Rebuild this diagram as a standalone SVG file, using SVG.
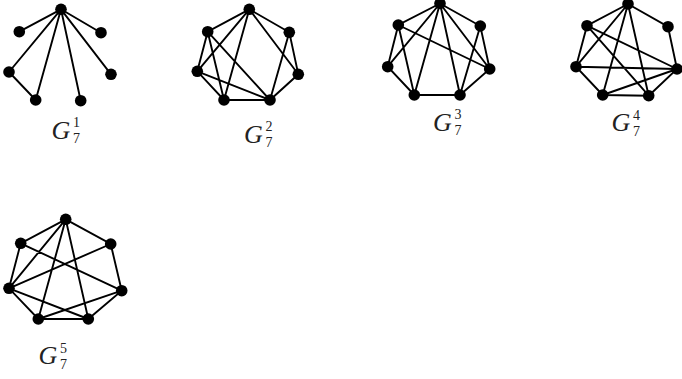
<svg xmlns="http://www.w3.org/2000/svg" width="682" height="379" viewBox="0 0 682 379">
<style>
.e{stroke:#000;stroke-width:1.9;fill:none;stroke-linecap:round}
.n circle{fill:#000}
.G{font-family:"Liberation Serif","Times New Roman",serif;font-style:italic;font-size:26px;fill:#222}
.s{font-family:"Liberation Serif","Times New Roman",serif;font-size:14px;fill:#222}
</style>
<rect width="682" height="379" fill="#fff"/>
<g id="connectors">
<path class="e" d="M61,9.3L19.3,31.7M61,9.3L101,32.7M61,9.3L9,72M61,9.3L111,74.3M61,9.3L35.7,100M61,9.3L80.7,100.7M9,72L35.7,100"/>
<path class="e" d="M249.3,9.3L207.7,31.7L197.3,71.3L224,100L270,100L298.3,74.3L289.3,32.3Z M249.3,9.3L197.3,71.3M249.3,9.3L224,100M249.3,9.3L298.3,74.3M207.7,31.7L224,100M207.7,31.7L270,100M197.3,71.3L270,100M289.3,32.3L270,100"/>
<path class="e" d="M440,3.5L398.3,25L387.7,66.7L414.3,95L460,95L489.7,69L480.3,26Z M440,3.5L387.7,66.7M440,3.5L414.3,95M440,3.5L460,95M440,3.5L489.7,69M398.3,25L414.3,95M398.3,25L489.7,69M480.3,26L460,95"/>
<path class="e" d="M628,4L587,25.7L576,66.7L602.7,95L648.7,95.7L677,69L668,26.7Z M628,4L576,66.7M628,4L602.7,95M628,4L648.7,95.7M587,25.7L648.7,95.7M587,25.7L677,69M576,66.7L677,69M602.7,95L677,69"/>
<path class="e" d="M65.7,219.3L20.7,243.3L9,288.3L38.3,319L88.3,319L121.7,290.7L110.7,244Z M65.7,219.3L9,288.3M65.7,219.3L38.3,319M65.7,219.3L88.3,319M20.7,243.3L121.7,290.7M110.7,244L9,288.3M9,288.3L88.3,319M38.3,319L121.7,290.7"/>
</g>
<g id="G1" class="n">
<circle id="G1-T" cx="61" cy="9.3" r="5.8"/><circle id="G1-UL" cx="19.3" cy="31.7" r="5.8"/><circle id="G1-UR" cx="101" cy="32.7" r="5.8"/><circle id="G1-L" cx="9" cy="72" r="5.8"/><circle id="G1-R" cx="111" cy="74.3" r="5.8"/><circle id="G1-BL" cx="35.7" cy="100" r="5.8"/><circle id="G1-BR" cx="80.7" cy="100.7" r="5.8"/>
<text class="G" x="51.5" y="138.5">G</text><text class="s" x="73" y="127">1</text><text class="s" x="73" y="143">7</text>
</g>
<g id="G2" class="n">
<circle id="G2-T" cx="249.3" cy="9.3" r="5.8"/><circle id="G2-UL" cx="207.7" cy="31.7" r="5.8"/><circle id="G2-UR" cx="289.3" cy="32.3" r="5.8"/><circle id="G2-L" cx="197.3" cy="71.3" r="5.8"/><circle id="G2-R" cx="298.3" cy="74.3" r="5.8"/><circle id="G2-BL" cx="224" cy="100" r="5.8"/><circle id="G2-BR" cx="270" cy="100" r="5.8"/>
<text class="G" x="244" y="142.5">G</text><text class="s" x="265.5" y="131">2</text><text class="s" x="265.5" y="147">7</text>
</g>
<g id="G3" class="n">
<circle id="G3-T" cx="440" cy="3.5" r="5.8"/><circle id="G3-UL" cx="398.3" cy="25" r="5.8"/><circle id="G3-UR" cx="480.3" cy="26" r="5.8"/><circle id="G3-L" cx="387.7" cy="66.7" r="5.8"/><circle id="G3-R" cx="489.7" cy="69" r="5.8"/><circle id="G3-BL" cx="414.3" cy="95" r="5.8"/><circle id="G3-BR" cx="460" cy="95" r="5.8"/>
<text class="G" x="433" y="130.5">G</text><text class="s" x="454.5" y="119">3</text><text class="s" x="454.5" y="135">7</text>
</g>
<g id="G4" class="n">
<circle id="G4-T" cx="628" cy="4" r="5.8"/><circle id="G4-UL" cx="587" cy="25.7" r="5.8"/><circle id="G4-UR" cx="668" cy="26.7" r="5.8"/><circle id="G4-L" cx="576" cy="66.7" r="5.8"/><circle id="G4-R" cx="677" cy="69" r="5.8"/><circle id="G4-BL" cx="602.7" cy="95" r="5.8"/><circle id="G4-BR" cx="648.7" cy="95.7" r="5.8"/>
<text class="G" x="611.5" y="131">G</text><text class="s" x="633" y="119.5">4</text><text class="s" x="633" y="135.5">7</text>
</g>
<g id="G5" class="n">
<circle id="G5-T" cx="65.7" cy="219.3" r="5.8"/><circle id="G5-UL" cx="20.7" cy="243.3" r="5.8"/><circle id="G5-UR" cx="110.7" cy="244" r="5.8"/><circle id="G5-L" cx="9" cy="288.3" r="5.8"/><circle id="G5-R" cx="121.7" cy="290.7" r="5.8"/><circle id="G5-BL" cx="38.3" cy="319" r="5.8"/><circle id="G5-BR" cx="88.3" cy="319" r="5.8"/>
<text class="G" x="38.5" y="364">G</text><text class="s" x="60" y="352.5">5</text><text class="s" x="60" y="368.5">7</text>
</g>
</svg>
